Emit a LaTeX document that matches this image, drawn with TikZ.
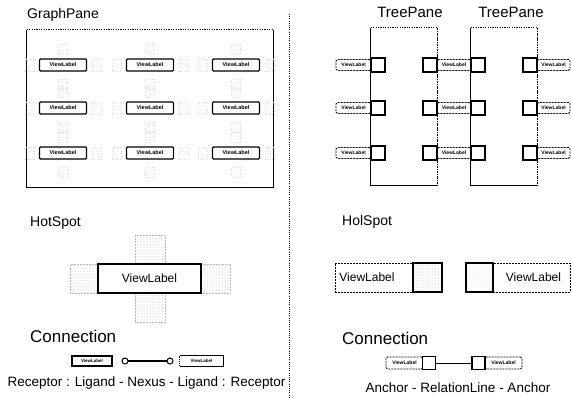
\documentclass[tikz,border=0pt]{standalone}
\usepackage{fontspec}
\setmainfont{Liberation Sans}
\usetikzlibrary{patterns,positioning}

\tikzset{
  ttl/.style={inner sep=0pt, font=\fontsize{14}{16}\selectfont},
  bigttl/.style={inner sep=0pt, font=\fontsize{17}{19}\selectfont},
  capt/.style={inner sep=0pt, font=\fontsize{13.5}{15}\selectfont},
  solidedge/.style={line width=1.1pt},
  dotedge/.style={line width=1.1pt, dash pattern=on 1.2pt off 1.2pt},
  gvl/.style={draw, line width=1.3pt, rounded corners=1pt, minimum width=47pt,
    minimum height=12pt, inner sep=0pt, outer sep=0pt,
    font=\fontsize{5.5}{6}\selectfont\bfseries},
  ghs/.style={draw=gray!25, dotted, line width=0.4pt, pattern=dots,
    pattern color=gray!40, minimum width=9pt, minimum height=10pt, inner sep=0pt},
  tvl/.style={draw, line width=0.9pt, dash pattern=on 2pt off 1pt,
    rounded corners=1.5pt, minimum height=11pt, inner sep=0pt, outer sep=0pt,
    font=\fontsize{5}{6}\selectfont\bfseries},
  anc/.style={draw, fill=white, line width=1.2pt, minimum size=14pt,
    inner sep=0pt, outer sep=0pt},
  bigvl/.style={draw, line width=1.2pt, minimum width=103pt, minimum height=29pt,
    inner sep=0pt, outer sep=0pt, font=\fontsize{12}{14}\selectfont},
  bhs/.style={draw=gray!55, densely dotted, line width=0.5pt, pattern=dots,
    pattern color=gray!70, inner sep=0pt, outer sep=0pt},
  dvl/.style={draw, line width=0.9pt, dash pattern=on 2pt off 1pt,
    minimum height=29pt, inner sep=0pt, outer sep=0pt,
    font=\fontsize{12}{14}\selectfont},
  hsq/.style={draw, line width=1.2pt, minimum height=29pt, inner sep=0pt,
    outer sep=0pt, pattern=dots},
  cvl/.style={draw, line width=1.1pt, minimum height=10pt, inner sep=0pt,
    outer sep=0pt, font=\fontsize{4.5}{5}\selectfont\bfseries},
  knob/.style={circle, draw, line width=1pt, fill=white, minimum size=6pt,
    inner sep=0pt, outer sep=0pt},
}

\begin{document}
\begin{tikzpicture}[x=1pt,y=-1pt]
\useasboundingbox (0,0) rectangle (572,398);

% divider between the two halves
\coordinate (divtop) at (289,14);
\coordinate (divbot) at (289,398);
\draw[line width=0.8pt, dash pattern=on 1pt off 1.2pt] (divtop) -- (divbot);

% ---------------- GraphPane ----------------
\node[ttl, anchor=base west] (gtitle) at (27,19) {GraphPane};
\node[minimum width=246pt, minimum height=157pt, inner sep=0pt] (gp) at (150,108.5) {};
\draw[solidedge] (gp.north west) -- (gp.south west) -- (gp.south east) -- (gp.north east);
\draw[dotedge] (gp.north west) -- (gp.north east);

\foreach \c/\x in {1/63,2/150,3/236}{
  \foreach \r/\y in {1/65,2/108,3/153}{
    \node[gvl] (gv\c\r) at (\x,\y) {ViewLabel};
    \node[ghs, above=5pt of gv\c\r] (ght\c\r) {};
    \node[ghs, below=8pt of gv\c\r] (ghb\c\r) {};
    \node[ghs, left=5pt of gv\c\r, minimum height=12pt] (ghl\c\r) {};
    \node[ghs, right=5pt of gv\c\r, minimum height=12pt] (ghr\c\r) {};
  }
}

% ---------------- TreePanes ----------------
\node[ttl, font=\fontsize{15}{17}\selectfont, anchor=base] (ttitle1) at (410,18) {TreePane};
\node[ttl, font=\fontsize{15}{17}\selectfont, anchor=base] (ttitle2) at (511,18) {TreePane};
\node[minimum width=66pt, minimum height=157pt, inner sep=0pt] (tp1) at (404,106.5) {};
\node[minimum width=66pt, minimum height=157pt, inner sep=0pt] (tp2) at (504,106.5) {};

\foreach \r/\y in {1/65,2/108,3/153}{
  \node[tvl, minimum width=35pt] (tla\r) at (353.5,\y) {ViewLabel};
  \node[tvl, minimum width=34pt] (tlb\r) at (454,\y) {ViewLabel};
  \node[tvl, minimum width=33pt] (tlc\r) at (553.5,\y) {ViewLabel};
  \node[anc] (ta\r) at (378,\y) {};
  \node[anc] (tb\r) at (430,\y) {};
  \node[anc] (tc\r) at (478,\y) {};
  \node[anc] (td\r) at (530,\y) {};
}

\foreach \p in {tp1,tp2}{
  \draw[solidedge] (\p.north west) -- (\p.south west) -- (\p.south east);
  \draw[dotedge] (\p.north west) -- (\p.north east);
  \draw[line width=1pt, dash pattern=on 2.5pt off 1pt on 0.8pt off 1pt] (\p.north east) -- (\p.south east);
}

% ---------------- HotSpot (left) ----------------
\node[ttl, anchor=base west] (hstitle) at (30,226) {HotSpot};
\node[bhs, minimum width=30pt, minimum height=29pt] (bht) at (150,249.5) {};
\node[bhs, minimum width=30pt, minimum height=29pt] (bhb) at (150,307.5) {};
\node[bhs, minimum width=28pt, minimum height=29pt] (bhl) at (84,278.5) {};
\node[bhs, minimum width=29pt, minimum height=29pt] (bhr) at (215.5,278.5) {};
\node[bigvl, fill=white] (bvl) at (149.5,278.5) {ViewLabel};

% ---------------- HolSpot (right) ----------------
\node[ttl, anchor=base west] (hstitle2) at (342,225) {HolSpot};
\node[dvl, minimum width=78pt] (hl1) at (374,277.5) {\hspace*{-14pt}ViewLabel};
\node[hsq, minimum width=29pt, pattern color=gray!75] (hq1) at (427.5,277.5) {};
\node[hsq, minimum width=27pt, pattern color=gray!35] (hq2) at (479.5,277.5) {};
\node[dvl, minimum width=77pt] (hl2) at (531.5,277.5) {\hspace*{4pt}ViewLabel};

% ---------------- Connection (left) ----------------
\node[bigttl, anchor=base west] (ctitle) at (30,342) {Connection};
\node[cvl, minimum width=40pt] (rc1) at (92,361) {ViewLabel};
\node[knob] (lg1) at (125,361) {};
\node[knob] (lg2) at (170,361) {};
\draw[line width=1.1pt] (lg1) -- (lg2);
\node[minimum width=43pt, minimum height=10pt, inner sep=0pt,
      font=\fontsize{4.5}{5}\selectfont\bfseries] (rc2) at (201.5,361) {ViewLabel};
\draw[line width=1.1pt] (rc2.north west) -- (rc2.north east) -- (rc2.south east) -- (rc2.south west);
\draw[line width=1pt, dash pattern=on 1pt off 1pt] (rc2.south west) -- (rc2.north west);
\node[capt, anchor=base] (ccap) at (146.5,386) {Receptor : Ligand - Nexus - Ligand : Receptor};

% ---------------- Connection (right) ----------------
\node[bigttl, anchor=base west] (ctitle2) at (342,344) {Connection};
\node[tvl, minimum width=37pt, minimum height=12pt] (cl1) at (404.5,363) {ViewLabel};
\node[tvl, minimum width=37pt, minimum height=12pt] (cl2) at (503.5,363) {ViewLabel};
\node[anc, minimum size=13pt] (cs1) at (429,363) {};
\node[anc, minimum size=13pt] (cs2) at (478.5,363) {};
\draw[line width=0.9pt] (cs1) -- (cs2);
\node[capt, anchor=base] (acap) at (458,392) {Anchor - RelationLine - Anchor};

\end{tikzpicture}
\end{document}
